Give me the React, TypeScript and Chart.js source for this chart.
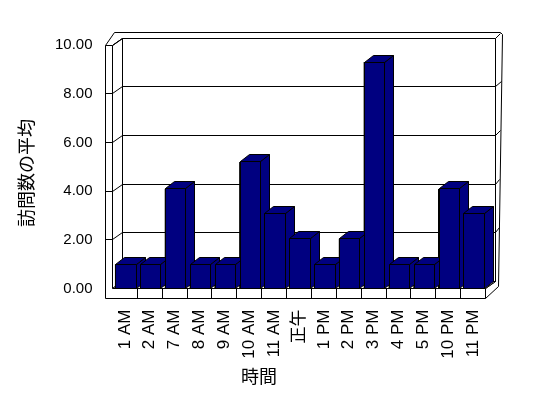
import React, { useEffect, useRef } from "react";
import { Chart, registerables } from "chart.js";

Chart.register(...registerables);

const categories = ["1 AM", "2 AM", "7 AM", "8 AM", "9 AM", "10 AM", "11 AM", "正午", "1 PM", "2 PM", "3 PM", "4 PM", "5 PM", "10 PM", "11 PM"];
const averageVisits = [1, 1, 4.1, 1, 1, 5.2, 3.1, 2.05, 1, 2.05, 9.3, 1, 1, 4.1, 3.1];
const yTickValues = [0, 2, 4, 6, 8, 10];
const yAxisTitle = "訪問数の平均";
const xAxisTitle = "時間";

const BAR_COLOR = "#000080";
const LINE_COLOR = "#000000";
const FONT = '"Liberation Sans", Arial, "Noto Sans CJK JP", sans-serif';
const CJK_FONT = '"Noto Sans CJK JP", "Noto Sans CJK SC", sans-serif';

const WALL_DX = 10;
const WALL_DY = -7;
const BAR_DX = 9;
const BAR_DY = -7;
const BAR_SHIFT = 1;
const LEFT_T = 7.5;
const FLOOR_T = 9.5;

const p = (v: number) => Math.round(v - 0.5) + 0.5;

function poly(ctx: CanvasRenderingContext2D, pts: number[][], fill?: string) {
  ctx.beginPath();
  pts.forEach((pt, i) => (i ? ctx.lineTo(p(pt[0]), p(pt[1])) : ctx.moveTo(p(pt[0]), p(pt[1]))));
  ctx.closePath();
  if (fill) {
    ctx.fillStyle = fill;
    ctx.fill();
  }
  ctx.stroke();
}

function line(ctx: CanvasRenderingContext2D, pts: number[][]) {
  ctx.beginPath();
  pts.forEach((pt, i) => (i ? ctx.lineTo(p(pt[0]), p(pt[1])) : ctx.moveTo(p(pt[0]), p(pt[1]))));
  ctx.stroke();
}

const box3d = {
  id: "box3d",
  beforeDatasetsDraw(chart: any) {
    const { ctx, chartArea } = chart;
    const { left: L, right: R, top: T, bottom: B } = chartArea;
    const ys = chart.scales.y;
    ctx.save();
    ctx.lineWidth = 1;
    ctx.strokeStyle = LINE_COLOR;
    const outerTop = T - 13;
    const orTop = [R + 16.5, T - 11];
    const orBot = [R + 13, B - 2];
    const outerXAt = (yy: number) => orTop[0] + ((yy - orTop[1]) / (orBot[1] - orTop[1])) * (orBot[0] - orTop[0]);
    poly(ctx, [
      [L - LEFT_T, T],
      [L + 1.5, outerTop],
      [R + 15, outerTop],
      orTop,
      orBot,
      [R, B + FLOOR_T],
      [R, B],
      [R + WALL_DX, B + WALL_DY],
      [R + WALL_DX, T + WALL_DY],
      [L + WALL_DX, T + WALL_DY],
      [L, T],
    ], "#ffffff");
    line(ctx, [[R + WALL_DX, T + WALL_DY], [R + 15, T - 12]]);
    poly(ctx, [
      [L + WALL_DX, T + WALL_DY],
      [R + WALL_DX, T + WALL_DY],
      [R + WALL_DX, B + WALL_DY],
      [L + WALL_DX, B + WALL_DY],
    ], "#ffffff");
    poly(ctx, [
      [L, T],
      [L + WALL_DX, T + WALL_DY],
      [L + WALL_DX, B + WALL_DY],
      [L, B],
    ], "#ffffff");
    yTickValues.forEach((v) => {
      const y0 = ys.getPixelForValue(v);
      const yb = y0 + WALL_DY;
      if (v > 0 && v < 10) {
        line(ctx, [[L + WALL_DX, yb], [R + WALL_DX, yb]]);
        line(ctx, [[R + WALL_DX, yb], [outerXAt(yb - 5), yb - 5]]);
      }
      if (v > 0) line(ctx, [[L, y0], [L + WALL_DX, yb]]);
    });
    poly(ctx, [
      [L, B],
      [R, B],
      [R + WALL_DX, B + WALL_DY],
      [L + WALL_DX, B + WALL_DY],
    ], "#ffffff");
    ctx.restore();
  },
  afterDatasetsDraw(chart: any) {
    const { ctx, chartArea } = chart;
    const { left: L, right: R, top: T, bottom: B } = chartArea;
    const ys = chart.scales.y;
    const xs = chart.scales.x;
    const meta = chart.getDatasetMeta(0);
    ctx.save();
    ctx.lineWidth = 1;
    ctx.strokeStyle = LINE_COLOR;
    meta.data.forEach((bar: any) => {
      const x1 = bar.x - bar.width / 2 + BAR_SHIFT;
      const x2 = bar.x + bar.width / 2 + BAR_SHIFT;
      const yt = bar.y;
      const yb = bar.base;
      poly(ctx, [[x2, yt], [x2 + BAR_DX, yt + BAR_DY], [x2 + BAR_DX, yb + BAR_DY], [x2, yb]], BAR_COLOR);
      poly(ctx, [[x1, yt], [x1 + BAR_DX, yt + BAR_DY], [x2 + BAR_DX, yt + BAR_DY], [x2, yt]], BAR_COLOR);
      poly(ctx, [[x1, yt], [x2, yt], [x2, yb], [x1, yb]], BAR_COLOR);
    });
    poly(ctx, [
      [L - LEFT_T, T],
      [L, T],
      [L, B],
      [R, B],
      [R, B + FLOOR_T],
      [L - LEFT_T, B + FLOOR_T],
    ], "#ffffff");
    yTickValues.forEach((v) => {
      if (v > 0 && v < 10) {
        const y0 = ys.getPixelForValue(v);
        line(ctx, [[L - LEFT_T, y0], [L, y0]]);
      }
    });
    const n = categories.length;
    for (let i = 1; i < n; i++) {
      const xb = (xs.getPixelForValue(i - 1) + xs.getPixelForValue(i)) / 2;
      line(ctx, [[xb, B], [xb, B + FLOOR_T]]);
    }
    ctx.restore();
  },
  afterDraw(chart: any) {
    const { ctx } = chart;
    ctx.save();
    ctx.fillStyle = "#000000";
    ctx.font = `18px ${CJK_FONT}`;
    ctx.textAlign = "center";
    ctx.textBaseline = "middle";
    ctx.translate(26, 173);
    ctx.rotate(-Math.PI / 2);
    ctx.fillText(yAxisTitle, 0, 0);
    ctx.restore();
    ctx.save();
    ctx.fillStyle = "#000000";
    ctx.font = `18px ${CJK_FONT}`;
    ctx.textAlign = "center";
    ctx.textBaseline = "middle";
    ctx.fillText(xAxisTitle, 259, 376);
    ctx.restore();
  },
};

export default function App() {
  const ref = useRef<HTMLCanvasElement>(null);
  useEffect(() => {
    if (!ref.current) return;
    const chart = new Chart(ref.current, {
      type: "bar",
      data: {
        labels: categories,
        datasets: [
          {
            data: averageVisits,
            backgroundColor: BAR_COLOR,
            borderColor: LINE_COLOR,
            borderWidth: 1,
            barPercentage: 0.82,
            categoryPercentage: 1,
          },
        ],
      },
      options: {
        animation: false,
        responsive: false,
        devicePixelRatio: 1,
        layout: { padding: { left: 0, top: 45, right: 62.5, bottom: 0 } },
        plugins: { legend: { display: false }, tooltip: { enabled: false } },
        scales: {
          x: {
            grid: { display: false, drawTicks: false },
            border: { display: false },
            ticks: {
              minRotation: 90,
              maxRotation: 90,
              autoSkip: false,
              padding: 21,
              color: "#000000",
              font: { family: FONT, size: 17 },
            },
            afterFit: (s: any) => {
              s.height = 109.5;
            },
          },
          y: {
            min: 0,
            max: 10,
            grid: { display: false, drawTicks: false },
            border: { display: false },
            ticks: {
              stepSize: 2,
              padding: 20,
              color: "#000000",
              font: { family: FONT, size: 15 },
              callback: (v: any) => Number(v).toFixed(2),
            },
            afterFit: (s: any) => {
              s.width = 112.5;
            },
          },
        },
      },
      plugins: [box3d],
    });
    return () => chart.destroy();
  }, []);
  return (
    <div style={{ position: "absolute", left: 0, top: 0, width: 548, height: 398, background: "#ffffff" }}>
      <canvas ref={ref} width={548} height={398} />
    </div>
  );
}
